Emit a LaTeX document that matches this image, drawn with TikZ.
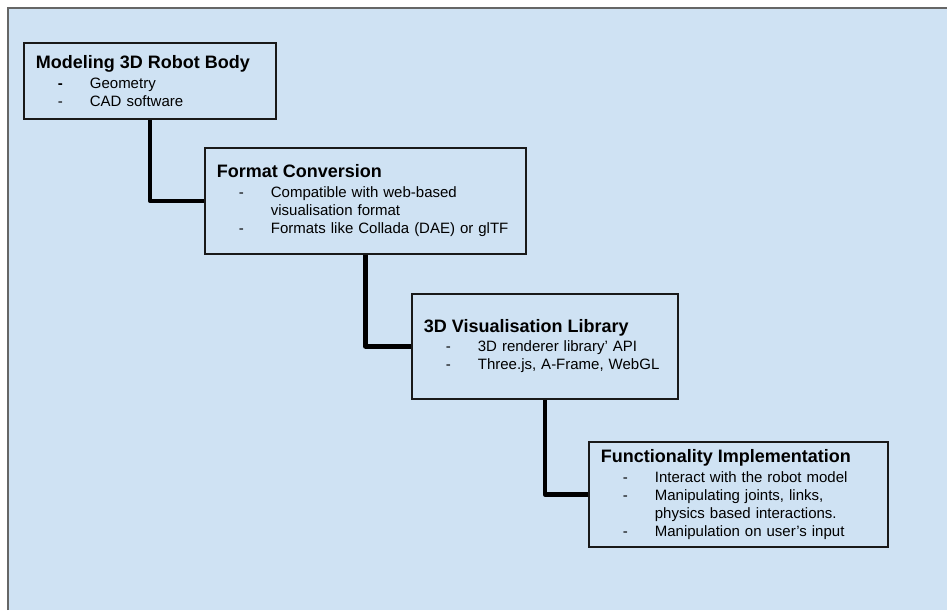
\documentclass[tikz,border=0pt]{standalone}
\usepackage{fontspec}
\setmainfont{Liberation Sans}
\usepackage{xcolor}
\usetikzlibrary{positioning}

\definecolor{paneblue}{HTML}{CFE2F3}
\definecolor{panegray}{HTML}{666666}

% title line, bullet and continuation indents
\newcommand{\stagetitle}[1]{{\fontsize{18}{21}\selectfont\bfseries #1}}
\newcommand{\bul}{\makebox[54pt][l]{\hspace{22pt}-}}
\newcommand{\cont}{\hspace*{54pt}}

\begin{document}
\begin{tikzpicture}[
        x=1pt, y=-1pt,
        stage/.style={draw=black!90, line width=1.8pt, align=left, anchor=north west, inner xsep=12pt, inner ysep=0pt, font=\fontsize{15}{18}\selectfont},
        link/.style={line width=4.2pt, line join=round}
    ]
        \useasboundingbox (0,0) rectangle (947,610);
        \fill[paneblue] (8,8) rectangle (947,610);
        \draw[panegray, line width=2pt] (8,610) -- (8,8) -- (947,8);

        \node[stage, text width=228pt, minimum height=76pt] (body) at (23,42)
            {\stagetitle{Modeling 3D Robot Body}\\[2pt]
             \makebox[54pt][l]{\hspace{22pt}\textbf{-}}Geometry\\
             \bul CAD software};
        \node[stage, text width=297pt, minimum height=106pt] (convert) at (204,147)
            {\stagetitle{Format Conversion}\\[2pt]
             \bul Compatible with web-based\\
             \cont visualisation format\\
             \bul Formats like Collada (DAE) or glTF};
        \node[stage, text width=242pt, minimum height=105pt] (vislib) at (411,293)
            {\stagetitle{3D Visualisation Library}\\[1pt]
             \bul 3D renderer library' API\\
             \bul Three.js, A-Frame, WebGL};
        \node[stage, text width=275pt, minimum height=105pt] (funct) at (588,441)
            {\stagetitle{Functionality Implementation}\\[2pt]
             \bul Interact with the robot model\\
             \bul Manipulating joints, links,\\
             \cont physics based interactions.\\
             \bul Manipulation on user's input};

        \draw[link] (body.south) |- (convert.west);
        \draw[link] (convert.south) |- (vislib.west);
        \draw[link] (vislib.south) |- (funct.west);
    \end{tikzpicture}
\end{document}
